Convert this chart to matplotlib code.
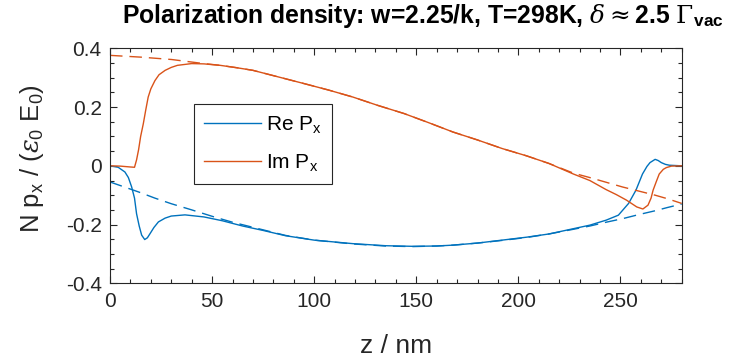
import matplotlib
matplotlib.use("Agg")
import matplotlib.pyplot as plt
from matplotlib.ticker import MultipleLocator

# colours used by MATLAB's default line order
BLUE = "#0072BD"
ORANGE = "#D95319"
DARK = "#262626"

# Im P_x, full calculation
z_im = [0, 5, 10, 12, 13, 14, 15, 16.3, 17.5, 18.7, 20, 22, 24, 27, 30, 33, 40, 46,
        54, 62, 70, 80, 95, 107, 119, 131, 144, 156, 168, 180, 192, 204, 215, 227,
        235, 243, 248, 253, 258, 261, 263.5, 265, 266, 267.5, 269, 271, 272.5, 275, 280]
im_px = [0, -0.001, -0.004, -0.005, 0.02, 0.055, 0.1, 0.143, 0.19, 0.234, 0.262, 0.29,
         0.31, 0.325, 0.335, 0.342, 0.348, 0.347, 0.342, 0.334, 0.325, 0.307, 0.28,
         0.258, 0.234, 0.206, 0.178, 0.147, 0.115, 0.088, 0.059, 0.034, 0.008, -0.028,
         -0.05, -0.081, -0.098, -0.117, -0.14, -0.147, -0.134, -0.11, -0.083, -0.055,
         -0.028, -0.012, -0.006, -0.001, 0]

# Im P_x, bulk approximation (dashed)
z_im_bulk = [0, 15, 30, 46, 54, 62, 70, 80, 95, 107, 119, 131, 144, 156, 168, 180,
             192, 204, 215, 227, 235, 243, 251, 259, 267, 273, 280]
im_bulk = [0.376, 0.37, 0.362, 0.348, 0.342, 0.334, 0.325, 0.307, 0.28, 0.258, 0.234,
           0.206, 0.178, 0.147, 0.115, 0.088, 0.059, 0.034, 0.008, -0.025, -0.04,
           -0.056, -0.072, -0.086, -0.1, -0.112, -0.128]

# Re P_x, full calculation
z_re = [0, 4, 7.3, 9, 10.6, 12, 13, 14.3, 15.5, 17, 18.3, 19.6, 21.5, 23.7, 27, 30,
        36.7, 46, 55, 65, 75, 86, 100, 119, 135, 148, 160, 168, 180, 192, 204, 215,
        227, 235, 243, 249, 254, 257.6, 260.8, 263, 264.5, 267, 268.5, 270, 272, 274, 280]
re_px = [0, -0.005, -0.021, -0.04, -0.072, -0.11, -0.163, -0.205, -0.236, -0.251,
         -0.245, -0.231, -0.21, -0.191, -0.178, -0.171, -0.167, -0.174, -0.187, -0.205,
         -0.22, -0.238, -0.253, -0.265, -0.272, -0.274, -0.273, -0.27, -0.263, -0.253,
         -0.243, -0.232, -0.214, -0.202, -0.185, -0.168, -0.128, -0.083, -0.028,
         -0.002, 0.011, 0.022, 0.018, 0.011, 0.005, 0.002, 0]

# Re P_x, bulk approximation (dashed)
z_re_bulk = [0, 7, 14, 22, 30, 40, 51, 60, 75, 86, 100, 119, 135, 148, 160, 168, 180,
             192, 204, 215, 227, 235, 243, 251, 259, 267, 273, 280]
re_bulk = [-0.055, -0.072, -0.089, -0.11, -0.129, -0.15, -0.174, -0.192, -0.218,
           -0.237, -0.253, -0.266, -0.273, -0.275, -0.273, -0.27, -0.263, -0.254,
           -0.244, -0.232, -0.216, -0.205, -0.192, -0.18, -0.166, -0.153, -0.142, -0.13]

x_ticks = [0, 50, 100, 150, 200, 250]
y_ticks = [-0.4, -0.2, 0, 0.2, 0.4]
y_tick_labels = ["-0.4", "-0.2", "0", "0.2", "0.4"]

plt.rcParams["font.family"] = ["Liberation Sans", "DejaVu Sans"]
plt.rcParams["mathtext.fontset"] = "custom"
plt.rcParams["mathtext.rm"] = "DejaVu Serif"
plt.rcParams["mathtext.it"] = "DejaVu Serif:italic"
plt.rcParams["mathtext.sf"] = "Liberation Sans"
plt.rcParams["mathtext.bf"] = "Liberation Sans:bold"

fig = plt.figure(figsize=(7.3, 3.6), dpi=100)
ax = fig.add_axes([0.1507, 0.213, 0.7831, 0.6528])

l_re, = ax.plot(z_re, re_px, color=BLUE, lw=1.0, label=r"Re P$_\mathsf{x}$")
l_im, = ax.plot(z_im, im_px, color=ORANGE, lw=1.0, label=r"Im P$_\mathsf{x}$")
ax.plot(z_re_bulk, re_bulk, color=BLUE, lw=1.0, dashes=(9, 5))
ax.plot(z_im_bulk, im_bulk, color=ORANGE, lw=1.0, dashes=(9, 5))

ax.set_xlim(0, 280)
ax.set_ylim(-0.4, 0.4)
ax.set_xticks(x_ticks)
ax.set_yticks(y_ticks)
ax.set_yticklabels(y_tick_labels)
ax.xaxis.set_minor_locator(MultipleLocator(10))
ax.yaxis.set_minor_locator(MultipleLocator(0.05))
ax.tick_params(which="both", direction="in", top=True, right=True, colors=DARK,
               labelsize=15, width=0.8)
ax.tick_params(which="major", length=5, pad=6)
ax.tick_params(which="minor", length=3)
for s in ax.spines.values():
    s.set_color(DARK)
    s.set_linewidth(0.8)

ax.set_xlabel("z / nm", fontsize=19, color=DARK)
ax.xaxis.set_label_coords(0.5, -0.215)
ax.set_ylabel(r"N p$_\mathsf{x}$ / ($\epsilon_\mathsf{0}$ E$_\mathsf{0}$)",
              fontsize=18.5, color=DARK)
ax.yaxis.set_label_coords(-0.112, 0.53)

leg = ax.legend(handles=[l_re, l_im], loc="upper left", bbox_to_anchor=(0.147, 0.762),
                fontsize=15, frameon=True, fancybox=False, edgecolor=DARK,
                framealpha=1, handlelength=2.7, handletextpad=0.25, borderpad=0.5,
                labelspacing=0.8, borderaxespad=0)
leg.get_frame().set_linewidth(0.8)

fig.text(0.579, 0.935,
         r"Polarization density: w=2.25/k, T=298K, $\delta\approx$2.5 $\Gamma_{\mathbf{vac}}$",
         ha="center", va="baseline", fontsize=17.8, fontweight="bold", color="black")

fig.savefig("out.png", dpi=100)
